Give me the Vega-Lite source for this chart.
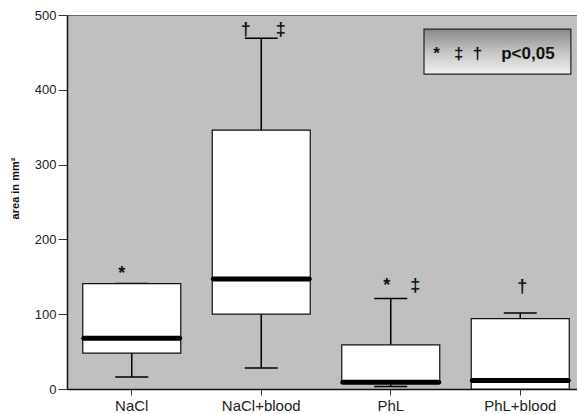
{
  "$schema": "https://vega.github.io/schema/vega-lite/v6.json",
  "width": 510,
  "height": 374,
  "autosize": {"type": "none"},
  "padding": {"left": 67, "top": 15, "right": 0, "bottom": 25},
  "background": "white",
  "config": {
    "view": {"fill": "#c0c0c0", "stroke": "#666666", "strokeWidth": 1},
    "font": "Liberation Sans",
    "tick": {"opacity": 1}
  },
  "datasets": {
    "boxes": [
      {"group": "NaCl", "lower": 16, "q1": 48, "median": 68, "q3": 141, "upper": 141},
      {"group": "NaCl+blood", "lower": 28, "q1": 100, "median": 147, "q3": 346, "upper": 469},
      {"group": "PhL", "lower": 3.5, "q1": 8, "median": 9, "q3": 59, "upper": 121},
      {"group": "PhL+blood", "lower": 0, "q1": 0, "median": 11.5, "q3": 94, "upper": 101.5}
    ],
    "marks": [
      {"group": "NaCl", "sig": "*", "y": 147},
      {"group": "NaCl+blood", "sig": "†\u00a0\u00a0\u00a0\u00a0\u00a0‡", "y": 473},
      {"group": "PhL", "sig": "*\u00a0\u00a0\u00a0\u00a0‡", "y": 131},
      {"group": "PhL+blood", "sig": "†", "y": 130}
    ],
    "key": [
      {"label": "*\u00a0\u00a0\u00a0‡\u00a0\u00a0†\u00a0\u00a0\u00a0\u00a0p<0,05", "x0": 0.7, "x1": 0.988, "xt": 0.718, "y0": 421, "y1": 481, "yt": 441}
    ]
  },
  "layer": [
    {
      "data": {"name": "boxes"},
      "encoding": {
        "x": {
          "field": "group",
          "type": "nominal",
          "sort": ["NaCl", "NaCl+blood", "PhL", "PhL+blood"],
          "scale": {"range": [0, 518], "paddingInner": 0, "paddingOuter": 0},
          "axis": {
            "title": null,
            "labelAngle": 0,
            "labelFontSize": 15,
            "labelColor": "#222222",
            "labelPadding": 3,
            "tickSize": 6,
            "tickColor": "#333333",
            "domainColor": "#111111",
            "domainWidth": 1.5
          }
        }
      },
      "layer": [
        {
          "mark": {"type": "rule", "color": "black", "strokeWidth": 1.5},
          "encoding": {
            "y": {
              "field": "lower",
              "type": "quantitative",
              "scale": {"domain": [0, 500], "nice": false},
              "axis": {
                "title": "area in mm²",
                "values": [0, 100, 200, 300, 400, 500],
                "grid": false,
                "tickSize": 9,
                "tickColor": "#333333",
                "domainColor": "#111111",
                "domainWidth": 1.5,
                "labelFontSize": 13,
                "labelColor": "#222222",
                "labelPadding": 2,
                "titleFontSize": 11,
                "titleFontWeight": "bold",
                "titleColor": "#111111",
                "titlePadding": 14,
                "titleY": 173
              }
            },
            "y2": {"field": "upper"}
          }
        },
        {
          "mark": {"type": "tick", "color": "black", "size": 33, "thickness": 1.5, "opacity": 1},
          "encoding": {"y": {"field": "lower", "type": "quantitative"}}
        },
        {
          "mark": {"type": "tick", "color": "black", "size": 33, "thickness": 1.5, "opacity": 1},
          "encoding": {"y": {"field": "upper", "type": "quantitative"}}
        },
        {
          "mark": {"type": "bar", "fill": "white", "stroke": "#111111", "strokeWidth": 1.2, "size": 98},
          "encoding": {
            "y": {"field": "q1", "type": "quantitative"},
            "y2": {"field": "q3"}
          }
        },
        {
          "mark": {"type": "tick", "color": "black", "size": 101, "thickness": 5, "cornerRadius": 2.5, "opacity": 1},
          "encoding": {"y": {"field": "median", "type": "quantitative"}}
        }
      ]
    },
    {
      "data": {"name": "marks"},
      "encoding": {
        "x": {
          "field": "group",
          "type": "nominal",
          "sort": ["NaCl", "NaCl+blood", "PhL", "PhL+blood"],
          "scale": {"range": [0, 518], "paddingInner": 0, "paddingOuter": 0},
          "axis": null
        },
        "y": {"field": "y", "type": "quantitative"},
        "text": {"field": "sig"}
      },
      "layer": [
        {
          "transform": [{"filter": "datum.group === 'NaCl'"}],
          "mark": {"type": "text", "fontSize": 18, "fontWeight": "bold", "baseline": "alphabetic", "align": "center", "dx": -10, "color": "#111111"}
        },
        {
          "transform": [{"filter": "datum.group === 'NaCl+blood'"}],
          "mark": {"type": "text", "fontSize": 18, "fontWeight": "bold", "baseline": "alphabetic", "align": "center", "dx": 2, "color": "#111111"}
        },
        {
          "transform": [{"filter": "datum.group === 'PhL'"}],
          "mark": {"type": "text", "fontSize": 18, "fontWeight": "bold", "baseline": "alphabetic", "align": "center", "dx": 11, "color": "#111111"}
        },
        {
          "transform": [{"filter": "datum.group === 'PhL+blood'"}],
          "mark": {"type": "text", "fontSize": 18, "fontWeight": "bold", "baseline": "alphabetic", "align": "center", "dx": 2, "color": "#111111"}
        }
      ]
    },
    {
      "data": {"name": "key"},
      "layer": [
        {
          "mark": {
            "type": "bar",
            "fill": {
              "gradient": "linear",
              "id": "keygrad",
              "x1": 0.5, "y1": 0.001, "x2": 0.5, "y2": 0.999,
              "stops": [
                {"offset": 0, "color": "#888888"},
                {"offset": 0.5, "color": "#c4c4c4"},
                {"offset": 1, "color": "#f0f0f0"}
              ]
            },
            "stroke": "#222222",
            "strokeWidth": 1.2
          },
          "encoding": {
            "x": {"field": "x0", "type": "quantitative", "scale": {"domain": [0, 1]}, "axis": null},
            "x2": {"field": "x1"},
            "y": {"field": "y0", "type": "quantitative"},
            "y2": {"field": "y1"}
          }
        },
        {
          "mark": {"type": "text", "align": "left", "baseline": "alphabetic", "fontSize": 17, "fontWeight": "bold", "color": "#111111"},
          "encoding": {
            "x": {"field": "xt", "type": "quantitative", "scale": {"domain": [0, 1]}, "axis": null},
            "y": {"field": "yt", "type": "quantitative"},
            "text": {"field": "label"}
          }
        }
      ]
    }
  ],
  "resolve": {"scale": {"x": "independent"}}
}
